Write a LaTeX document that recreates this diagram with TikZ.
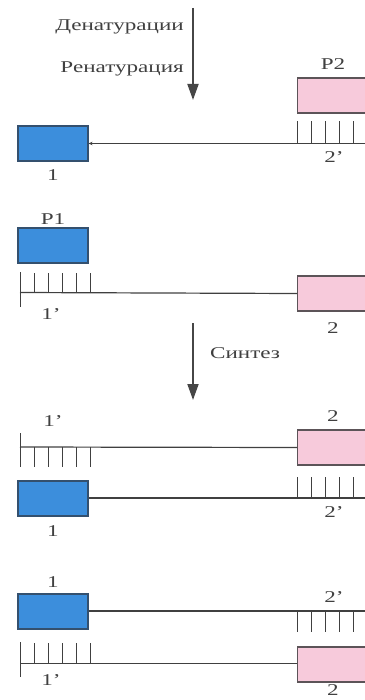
\documentclass[tikz,border=0pt]{standalone}
\usepackage{fontspec}
\setmainfont{Liberation Serif}[FakeStretch=1.4]
\usepackage{xcolor}
\usetikzlibrary{arrows.meta,positioning}

\definecolor{boxblue}{HTML}{3C8EDC}
\definecolor{blueedge}{HTML}{34506E}
\definecolor{boxpink}{HTML}{F7CADB}
\definecolor{pinkedge}{HTML}{5C5458}
\definecolor{inkgray}{HTML}{404040}

\begin{document}
\begin{tikzpicture}[
    x=1pt, y=-1pt,
    font=\fontsize{16.5}{18}\selectfont,
    bluebox/.style={
        draw=blueedge,
        fill=boxblue,
        line width=1.1pt,
        minimum width=70pt,
        minimum height=35pt,
        inner sep=0pt
    },
    pinkbox/.style={
        draw=pinkedge,
        fill=boxpink,
        line width=1.1pt,
        minimum width=72pt,
        minimum height=35pt,
        inner sep=0pt,
        anchor=west
    },
    lbl/.style={text=inkgray, inner sep=1pt},
    strand/.style={draw=inkgray, line width=1.2pt},
    tick/.style={draw=inkgray, line width=1pt},
    arr/.style={draw=gray!55!black, line width=1.8pt, -{Triangle[length=16pt,width=11pt]}}
]

\useasboundingbox (0,0) rectangle (364,700);

% steps
\coordinate (dtop) at (193,8);
\coordinate (dbot) at (193,100);
\draw[arr] (dtop) -- (dbot);
\node[lbl, anchor=east] (denat) at (185,27) {Денатурации};
\node[lbl, anchor=east] (renat) at (185,69) {Ренатурация};

\coordinate (stop) at (193,323);
\coordinate (sbot) at (193,400);
\draw[arr] (stop) -- (sbot);
\node[lbl, anchor=west] (synth) at (209,353) {Синтез};

% row 1
\node[bluebox] (ex1) at (53,143.5) {};
\node[lbl] (ex1lbl) at (53,175) {1};
\node[pinkbox] (pr2) at (297,95.5) {};
\node[lbl] (pr2lbl) at (333,64) {P2};
\coordinate (ex1end) at (370,143.5);
\draw[strand, {Stealth[length=4pt,width=3.5pt]}-] (ex1.east) -- (ex1end);
\foreach \x in {297,311,...,367} \draw[tick] (\x,143.5) -- ++(0,-22);
\node[lbl] (cp2a) at (334,157) {2'};

% row 2
\node[bluebox] (pr1) at (53,245.5) {};
\node[lbl] (pr1lbl) at (53,219) {P1};
\coordinate (st2) at (20,292.5);
\node[pinkbox] (ex2a) at (297,293.5) {};
\draw[strand] (st2) -- (ex2a.west);
\draw[tick] (20,272) -- (20,307);
\foreach \x in {34,48,...,90} \draw[tick] (\x,292.5) -- ++(0,-20);
\node[lbl] (cp1a) at (51,314) {1'};
\node[lbl] (ex2albl) at (333,328) {2};

% row 3
\coordinate (st3) at (20,447);
\node[pinkbox] (ex2b) at (297,447.5) {};
\draw[strand] (st3) -- (ex2b.west);
\draw[tick] (20,433) -- (20,467);
\foreach \x in {34,48,...,90} \draw[tick] (\x,447) -- ++(0,20);
\node[lbl] (cp1b) at (53,421) {1'};
\node[lbl] (ex2blbl) at (333,416) {2};

\node[bluebox] (ex1b) at (53,498.5) {};
\coordinate (ex1bend) at (370,498);
\draw[strand] (ex1b.east |- ex1bend) -- (ex1bend);
\foreach \x in {297,311,...,367} \draw[tick] (\x,498) -- ++(0,-21);
\node[lbl] (cp2b) at (334,512) {2'};
\node[lbl] (ex1blbl) at (53,531) {1};

% row 4
\node[bluebox] (ex1c) at (53,611.5) {};
\node[lbl] (ex1clbl) at (53,582) {1};
\coordinate (ex1cend) at (370,611);
\draw[strand] (ex1c.east |- ex1cend) -- (ex1cend);
\foreach \x in {297,311,...,367} \draw[tick] (\x,611) -- ++(0,21);
\node[lbl] (cp2c) at (334,597) {2'};

\coordinate (st4) at (20,663.5);
\node[pinkbox] (ex2c) at (297,664.5) {};
\draw[strand] (st4) -- (ex2c.west |- st4);
\draw[tick] (20,642) -- (20,677);
\foreach \x in {34,48,...,90} \draw[tick] (\x,663.5) -- ++(0,-21);
\node[lbl] (cp1c) at (51,680) {1'};
\node[lbl] (ex2clbl) at (333,690) {2};

\end{tikzpicture}
\end{document}
